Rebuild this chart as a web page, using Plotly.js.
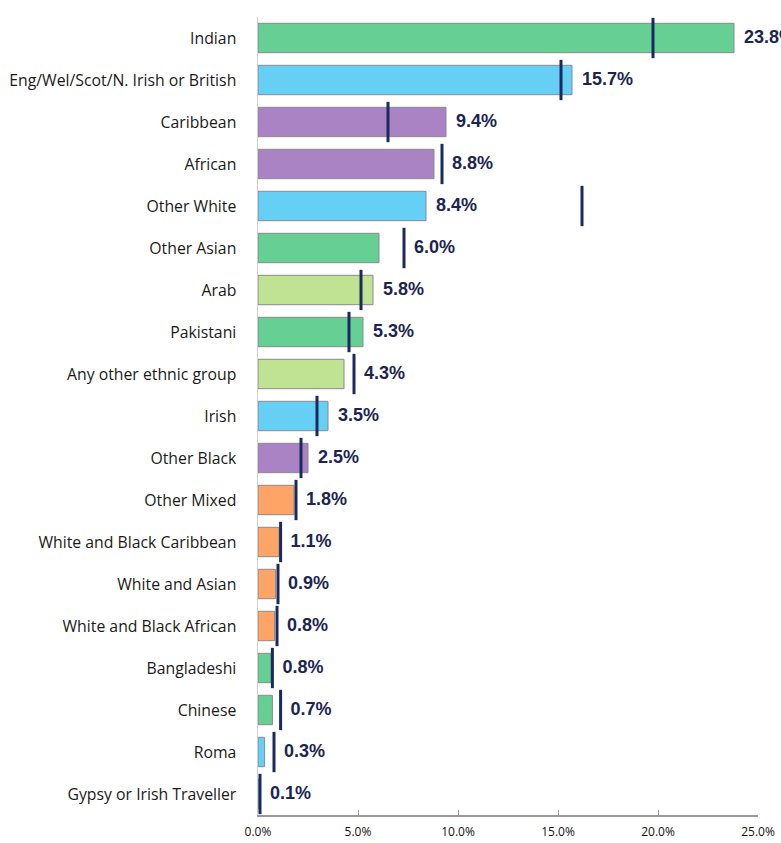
<!DOCTYPE html>
<html><head><meta charset="utf-8">
<script src="https://cdn.plot.ly/plotly-3.0.1.min.js"></script>
<style>body{margin:0;background:#fff}#chart{width:781px;height:843px}</style>
</head><body><div id="chart"></div>
<script>
const categories = ["Indian","Eng/Wel/Scot/N. Irish or British","Caribbean","African","Other White","Other Asian","Arab","Pakistani","Any other ethnic group","Irish","Other Black","Other Mixed","White and Black Caribbean","White and Asian","White and Black African","Bangladeshi","Chinese","Roma","Gypsy or Irish Traveller"];
const barValues = [23.8,15.7,9.4,8.8,8.4,6.05,5.75,5.25,4.3,3.5,2.5,1.8,1.05,0.88,0.83,0.65,0.72,0.33,0.1];
const valueLabels = ["23.8%","15.7%","9.4%","8.8%","8.4%","6.0%","5.8%","5.3%","4.3%","3.5%","2.5%","1.8%","1.1%","0.9%","0.8%","0.8%","0.7%","0.3%","0.1%"];
const markerValues = [19.75,15.15,6.5,9.2,16.2,7.3,5.15,4.55,4.8,2.95,2.15,1.9,1.13,1.0,0.95,0.72,1.13,0.8,0.1];
const groups = ["Asian","White","Black","Black","White","Asian","Other","Asian","Other","White","Black","Mixed","Mixed","Mixed","Mixed","Asian","Asian","White","White"];
const groupColors = {Asian:"#66cf94", White:"#66cff5", Black:"#a983c4", Other:"#bfe392", Mixed:"#fda466"};
const xTicks = [0,5,10,15,20,25];

const n = categories.length;
const traces = [{
  type:"bar", orientation:"h", y:categories, x:barValues, width:0.7,
  marker:{color:groups.map(g=>groupColors[g]), line:{color:"#8a8a8a", width:1}},
  hoverinfo:"x+y", showlegend:false
}];
const shapes = categories.map((c,i)=>({
  type:"line", xref:"x", yref:"y", x0:markerValues[i], x1:markerValues[i],
  y0:i-0.48, y1:i+0.48, line:{color:"#1b2a5c", width:3}
}));
const labelX = barValues.map((v,i)=>{
  const m = markerValues[i];
  return (m > v && m - v < 2) ? m : v;
});
traces.push({
  type:"scatter", mode:"text", y:categories, x:labelX,
  text:valueLabels.map(t=>"  "+t), textposition:"middle right",
  textfont:{family:"Liberation Sans, Arial, sans-serif", size:18, color:"#1b2550", weight:"bold"},
  cliponaxis:false, showlegend:false, hoverinfo:"skip"
});

const layout = {
  width:781, height:843,
  margin:{l:258, r:23, t:17, b:28},
  paper_bgcolor:"#fff", plot_bgcolor:"#fff",
  shapes:shapes,
  xaxis:{range:[0,25], tickvals:xTicks, ticktext:xTicks.map(v=>v.toFixed(1)+"%"),
    showgrid:false, zeroline:false, showline:true, linecolor:"#9a9a9a", linewidth:2,
    ticks:"inside", ticklen:5, tickcolor:"#9a9a9a", ticklabelstandoff:5,
    tickfont:{family:"Open Sans, sans-serif", size:12, color:"#111"}},
  yaxis:{type:"category", autorange:false, range:[n-0.5,-0.5], categoryorder:"array", categoryarray:categories,
    showgrid:false, zeroline:false, showline:true, linecolor:"#d0d0d0", linewidth:1.5,
    ticks:"", ticklabelstandoff:17,
    tickfont:{family:"Open Sans, sans-serif", size:15.8, color:"#1a1a1a"}},
  font:{family:"Open Sans, sans-serif"}
};
Plotly.newPlot("chart", traces, layout, {displayModeBar:false, staticPlot:true});
</script></body></html>
